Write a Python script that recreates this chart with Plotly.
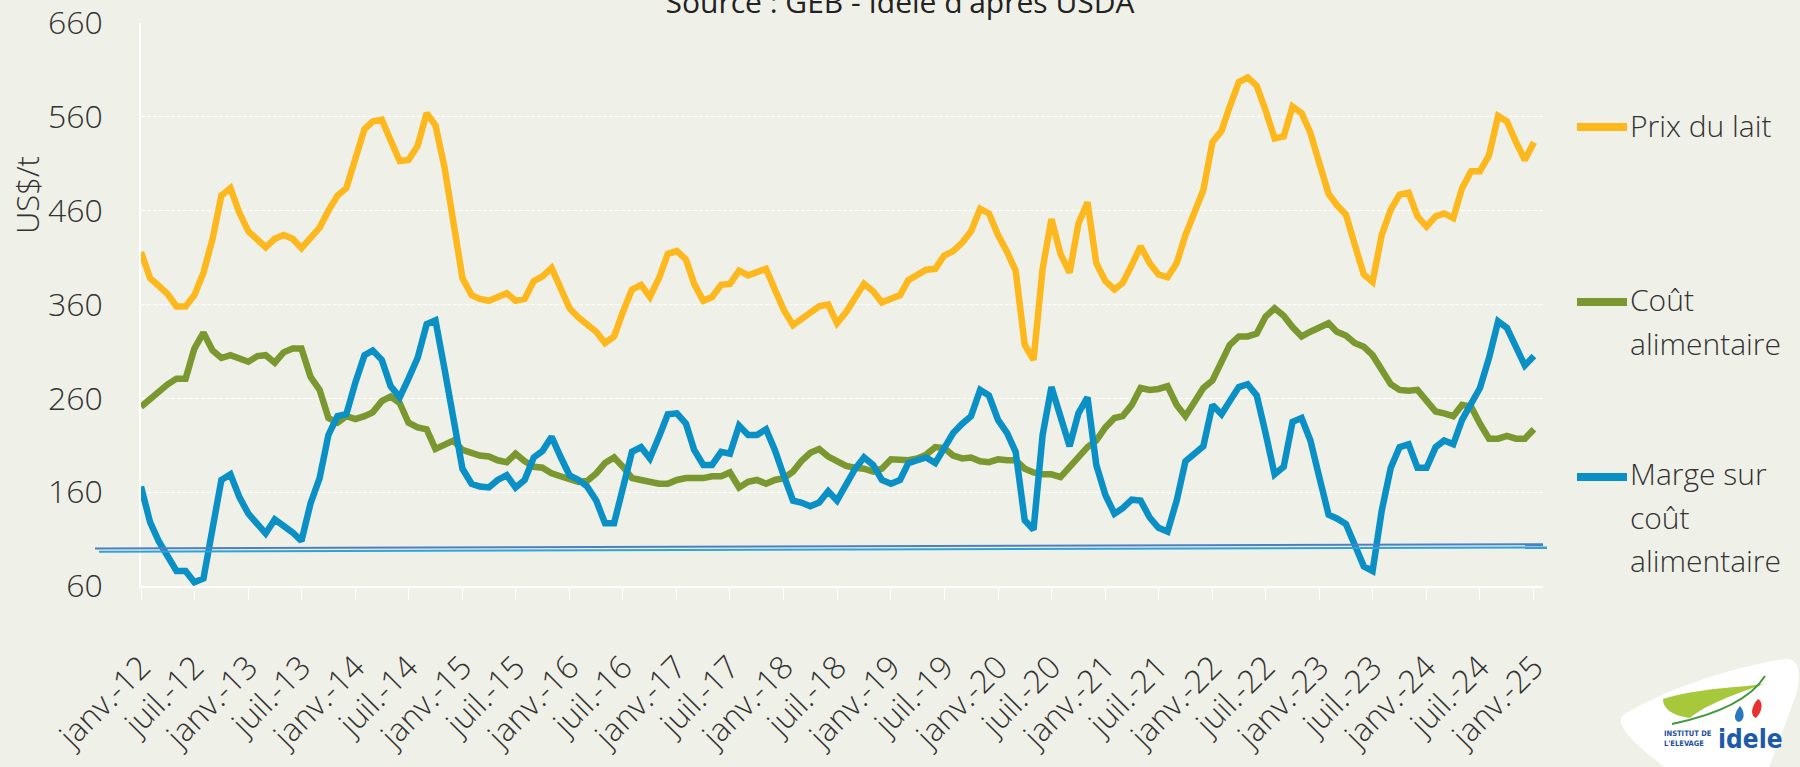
import pandas as pd
import plotly.graph_objects as go

# Monthly series, janv. 2012 -> janv. 2025 (US$/t)
mois = pd.date_range("2012-01-01", periods=157, freq="MS")

prix_lait = [
    416, 388, 380, 371, 358, 358, 370, 394, 430, 476, 484, 458,
    438, 430, 421, 430, 434, 430, 420, 431, 442, 460, 476, 484,
    516, 547, 555, 557, 535, 513, 514, 529, 564, 551, 506, 450,
    388, 370, 366, 364, 368, 372, 364, 366, 385, 390, 399, 378,
    356, 346, 338, 331, 319, 326, 352, 376, 381, 368, 388, 414,
    417, 408, 382, 364, 368, 381, 382, 396, 391, 394, 398, 376,
    354, 338, 344, 350, 358, 360, 340, 352, 368, 382, 374, 362,
    366, 370, 386, 391, 397, 398, 412, 417, 426, 438, 462, 457,
    434, 416, 396, 317, 301, 398, 451, 414, 394, 446, 469, 404,
    385, 376, 383, 402, 422, 404, 392, 389, 404, 434, 458, 482,
    533, 545, 571, 597, 602, 593, 567, 537, 539, 571, 564, 543,
    510, 478, 466, 456, 424, 392, 384, 434, 461, 477, 479, 454,
    443, 454, 457, 452, 484, 502, 502, 519, 561, 555, 533, 514,
    533,
]

cout_alimentaire = [
    251, 259, 268, 275, 281, 281, 313, 330, 311, 303, 306, 303,
    299, 305, 306, 298, 309, 313, 313, 283, 269, 239, 234, 241,
    238, 241, 245, 257, 262, 255, 234, 229, 227, 206, 211, 215,
    205, 201, 199, 198, 194, 192, 201, 193, 187, 186, 180, 177,
    174, 171, 172, 180, 191, 197, 187, 175, 173, 171, 169, 169,
    173, 175, 175, 175, 177, 177, 181, 165, 171, 173, 169, 173,
    175, 182, 193, 202, 206, 198, 193, 188, 186, 185, 182, 185,
    195, 195, 194, 196, 200, 208, 207, 199, 196, 197, 193, 192,
    195, 194, 194, 185, 181, 179, 179, 176, 187, 199, 208, 215,
    229, 239, 241, 253, 271, 269, 270, 273, 253, 241, 255, 271,
    279, 301, 317, 326, 326, 329, 347, 356, 348, 336, 326, 331,
    335, 340, 331, 327, 319, 315, 306, 291, 275, 269, 268, 269,
    257, 246, 244, 241, 253, 251, 233, 217, 217, 220, 217, 217,
    227,
]

marge = [
    166, 128, 108, 93, 76, 76, 64, 68, 118, 173, 179, 155,
    137, 125, 116, 131, 125, 117, 108, 148, 175, 221, 241, 243,
    277, 306, 311, 301, 273, 261, 281, 303, 339, 343, 291, 235,
    185, 169, 166, 165, 173, 178, 165, 173, 197, 204, 219, 198,
    178, 173, 166, 151, 127, 127, 166, 203, 208, 196, 219, 243,
    244, 233, 205, 189, 189, 203, 201, 231, 221, 221, 227, 205,
    177, 151, 149, 145, 149, 161, 151, 169, 185, 197, 189, 173,
    169, 173, 191, 194, 197, 191, 207, 223, 233, 241, 269, 263,
    237, 223, 203, 130, 120, 221, 272, 239, 209, 244, 261, 189,
    157, 137, 143, 152, 151, 133, 122, 118, 151, 193, 201, 209,
    253, 243, 257, 272, 275, 263, 223, 179, 187, 235, 239, 215,
    175, 136, 132, 126, 104, 81, 76, 140, 186, 208, 211, 186,
    186, 208, 215, 211, 237, 255, 271, 303, 342, 335, 315, 295,
    305,
]

# Half-yearly tick labels
tick_dates = mois[::6]
tick_labels = [("janv.-" if d.month == 1 else "juil.-") + f"{d.year % 100:02d}" for d in tick_dates]
y_ticks = [60, 160, 260, 360, 460, 560, 660]

# Horizontal reference line (start / end level, US$/t)
ligne_ref = [98, 102]

series = [
    ("Prix du lait", prix_lait, "#FDB81E", ["Prix du lait"]),
    ("Coût alimentaire", cout_alimentaire, "#7A982F", ["Coût", "alimentaire"]),
    ("Marge sur coût alimentaire", marge, "#0A90C5", ["Marge sur", "coût", "alimentaire"]),
]

BG = "#EFF0E7"
TXT = "#333333"
FONT = "Open Sans"
W, H = 1800, 767
L, R, T, B = 141, 257, 23, 181
PW, PH = W - L - R, H - T - B


def px_x(p):
    return (p - L) / PW


def px_y(p):
    return (H - B - p) / PH


def path_px(cmds):
    out = []
    for c in cmds:
        if isinstance(c, str):
            out.append(c)
        else:
            out.append(f"{px_x(c[0]):.5f},{px_y(c[1]):.5f}")
    return " ".join(out)


fig = go.Figure()
for name, vals, color, _ in series:
    fig.add_trace(go.Scatter(
        x=mois, y=vals, name=name, mode="lines",
        line=dict(color=color, width=6.5), showlegend=False,
    ))

shapes = []
annotations = []

# reference line (drawn twice, slightly offset, as in the source graphic)
shapes.append(dict(type="line", xref="paper", yref="y",
                   x0=px_x(95), x1=px_x(1543), y0=ligne_ref[0] + 2, y1=ligne_ref[1] + 2.5,
                   line=dict(color="#4F7FC2", width=2)))
shapes.append(dict(type="line", xref="paper", yref="y",
                   x0=px_x(99), x1=px_x(1547), y0=ligne_ref[0] - 1.5, y1=ligne_ref[1] - 1,
                   line=dict(color="#2CA3DA", width=2)))

# custom legend on the right
legend_rows = [(127, [125]), (302, [299, 343]), (477, [473, 517, 560])]
for (name, _, color, lines), (ly, text_ys) in zip(series, legend_rows):
    shapes.append(dict(type="line", xref="paper", yref="paper",
                       x0=px_x(1577), x1=px_x(1627), y0=px_y(ly), y1=px_y(ly),
                       line=dict(color=color, width=8)))
    for txt, ty in zip(lines, text_ys):
        annotations.append(dict(text=txt, xref="paper", yref="paper",
                                x=px_x(1628), y=px_y(ty), xanchor="left", yanchor="middle",
                                showarrow=False, font=dict(family=FONT, size=30, color=TXT, weight=300)))

# y-axis unit
annotations.append(dict(text="US$/t", xref="paper", yref="paper", x=px_x(27), y=px_y(195),
                        xanchor="center", yanchor="middle", textangle=-90, showarrow=False,
                        font=dict(family=FONT, size=31, color=TXT, weight=300)))

# Institut de l'Elevage badge (bottom right)
shapes.append(dict(type="path", xref="paper", yref="paper", fillcolor="white",
                   line=dict(width=0),
                   path=path_px(["M", (1622, 716), "C", (1660, 690), (1740, 665), (1785, 659),
                                 "C", (1802, 657), (1800, 680), (1796, 695),
                                 "L", (1768, 770), "L", (1668, 770),
                                 "C", (1640, 748), (1615, 728), (1622, 716), "Z"])))
shapes.append(dict(type="path", xref="paper", yref="paper", fillcolor="#A7C83A",
                   line=dict(width=0),
                   path=path_px(["M", (1663, 699), "C", (1700, 688), (1735, 688), (1764, 684),
                                 "C", (1735, 694), (1705, 705), (1690, 718),
                                 "C", (1675, 716), (1663, 710), (1663, 699), "Z"])))
shapes.append(dict(type="path", xref="paper", yref="paper",
                   line=dict(color="#3E9A3A", width=2),
                   path=path_px(["M", (1672, 724), "C", (1715, 715), (1750, 700), (1765, 676)])))
shapes.append(dict(type="path", xref="paper", yref="paper", fillcolor="#E5312F",
                   line=dict(width=0),
                   path=path_px(["M", (1758, 699), "C", (1764, 702), (1762, 712), (1756, 718),
                                 "C", (1750, 716), (1751, 706), (1758, 699), "Z"])))
shapes.append(dict(type="path", xref="paper", yref="paper", fillcolor="#2A78C2",
                   line=dict(width=0),
                   path=path_px(["M", (1740, 706), "C", (1745, 712), (1745, 720), (1739, 722),
                                 "C", (1733, 721), (1734, 713), (1740, 706), "Z"])))
annotations.append(dict(text="<b>INSTITUT DE<br>L'ELEVAGE</b>", xref="paper", yref="paper",
                        x=px_x(1662), y=px_y(739), xanchor="left", yanchor="middle", align="left",
                        showarrow=False,
                        font=dict(family="DejaVu Sans Condensed, Liberation Sans", size=7.5, color="#1D4F9C")))
annotations.append(dict(text="<b>idele</b>", xref="paper", yref="paper",
                        x=px_x(1716), y=px_y(739), xanchor="left", yanchor="middle",
                        showarrow=False,
                        font=dict(family="DejaVu Sans Condensed, Liberation Sans", size=26, color="#1D5AA8")))

fig.update_layout(
    width=W, height=H,
    margin=dict(l=L, r=R, t=T, b=B, pad=0, autoexpand=False),
    paper_bgcolor=BG, plot_bgcolor=BG,
    title=dict(text="Source : GEB - Idele d'après USDA", x=0.5, xref="container",
               y=1 - 2 / H, yref="container", yanchor="middle", xanchor="center",
               font=dict(family=FONT, size=30, color="#222222")),
    shapes=shapes, annotations=annotations,
    xaxis=dict(
        range=[mois[0], pd.Timestamp("2025-02-01")],
        tickvals=tick_dates, ticktext=tick_labels, tickangle=-45,
        showgrid=False, showline=True, linecolor="white", linewidth=1.5,
        ticks="outside", ticklen=12, tickwidth=1, tickcolor="white",
        ticklabelstandoff=36, automargin=False,
        tickfont=dict(family=FONT, size=32, color=TXT, weight=300),
    ),
    yaxis=dict(
        range=[60, 660], tickvals=y_ticks,
        showgrid=True, gridcolor="white", gridwidth=1, griddash="4px,2px",
        showline=True, linecolor="white", linewidth=1.5,
        ticks="", ticklabelstandoff=30, zeroline=False, automargin=False,
        tickfont=dict(family=FONT, size=32, color=TXT, weight=300),
    ),
)

fig.write_html("out.html")
